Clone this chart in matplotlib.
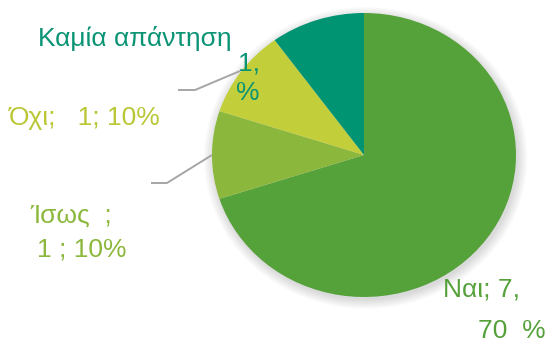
import numpy as np
import matplotlib
matplotlib.use("Agg")
import matplotlib.pyplot as plt

# Survey answers
labels = ["Ναι", "Ίσως", "Όχι", "Καμία απάντηση"]
counts = [7, 1, 1, 1]
percents = [70, 10, 10, 10]
slice_colors = ["#55A13A", "#8BB83C", "#C2CE3A", "#019473"]
text_colors = ["#55A13A", "#8BB83C", "#B9C735", "#0A9474"]

W, H = 551, 342
CX, CY = 364, 155      # pie centre in pixels
RX, RY = 152, 142      # horizontal / vertical radius in pixels

fig = plt.figure(figsize=(W / 100, H / 100), dpi=100)
ax = fig.add_axes([0, 0, 1, 1])
ax.set_xlim(-CX / RX, (W - CX) / RX)
ax.set_ylim(-(H - CY) / RY, CY / RY)
ax.axis("off")


def px(x, y):
    """Pixel position (origin top-left) to data coordinates."""
    return (x - CX) / RX, (CY - y) / RY


# soft drop shadow behind the pie
gx = np.linspace(*ax.get_xlim(), W)
gy = np.linspace(ax.get_ylim()[1], ax.get_ylim()[0], H)
X, Y = np.meshgrid(gx, gy)
r = np.hypot(X - 0.012, Y + 0.02)
alpha = np.clip((1.07 - r) / 0.07, 0, 1) * 0.22
shadow = np.zeros((H, W, 4))
shadow[..., :3] = 0.35
shadow[..., 3] = alpha
ax.imshow(shadow, extent=(gx[0], gx[-1], gy[-1], gy[0]), aspect="auto", zorder=0)

ax.pie(counts, colors=slice_colors, startangle=90, counterclock=False,
       radius=1, center=(0, 0), frame=True,
       wedgeprops=dict(linewidth=0), normalize=True)
ax.set_xlim(-CX / RX, (W - CX) / RX)
ax.set_ylim(-(H - CY) / RY, CY / RY)
ax.set_aspect("auto")
ax.axis("off")

font = dict(family=["Liberation Sans", "DejaVu Sans"], fontsize=19)

# leader lines
for pts in ([(178, 90), (195, 90), (240, 71)],
            [(151, 183), (167, 183), (212, 155)]):
    xs, ys = zip(*[px(*p) for p in pts])
    ax.plot(xs, ys, color="#A6A6A6", lw=1.4, solid_capstyle="butt", zorder=3)

# data labels
ax.text(*px(38, 46), f"{labels[3]}", color=text_colors[3], ha="left", va="baseline", **font)
ax.text(*px(238, 70), f"{counts[3]},", color=text_colors[3], ha="left", va="baseline", **font)
ax.text(*px(236, 100), "%", color=text_colors[3], ha="left", va="baseline", **font)

ax.text(*px(161, 125), f"{labels[2]};   {counts[2]}; {percents[2]}%",
        color=text_colors[2], ha="right", va="baseline", **font)

ax.text(*px(30, 223), f"{labels[1]}  ;", color=text_colors[1], ha="left", va="baseline", **font)
ax.text(*px(37, 257), f"{counts[1]} ; {percents[1]}%", color=text_colors[1],
        ha="left", va="baseline", **font)

ax.text(*px(443, 297), f"{labels[0]}; {counts[0]},", color=text_colors[0],
        ha="left", va="baseline", **font)
ax.text(*px(546, 338), f"{percents[0]}  %", color=text_colors[0],
        ha="right", va="baseline", **font)

fig.savefig("out.png", dpi=100)
